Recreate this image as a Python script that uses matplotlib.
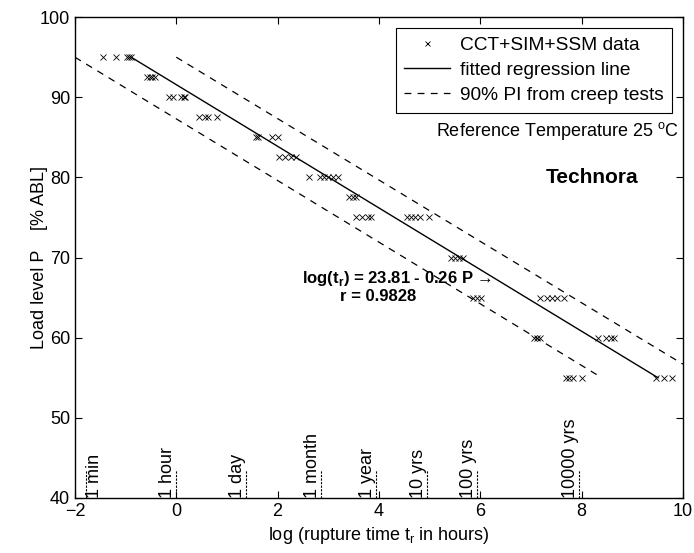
import numpy as np
import matplotlib
matplotlib.use('Agg')
import matplotlib.pyplot as plt

plt.rcParams['font.family'] = ['Liberation Sans', 'DejaVu Sans']
plt.rcParams['mathtext.fontset'] = 'custom'
plt.rcParams['mathtext.rm'] = 'Liberation Sans'
plt.rcParams['mathtext.bf'] = 'Liberation Sans:bold'

# test data: load level (% ABL) and log rupture time (hours)
load_levels = [95, 92.5, 90, 87.5, 85, 82.5, 80, 77.5, 75, 75, 70, 65, 65, 60, 60, 55, 55]
log_times = [
    [-1.45, -1.19, -0.98, -0.93, -0.90],
    [-0.58, -0.52, -0.47, -0.42],
    [-0.14, -0.06, 0.10, 0.15, 0.18],
    [0.45, 0.57, 0.62, 0.80],
    [1.57, 1.61, 1.89, 2.01],
    [2.03, 2.14, 2.26, 2.36],
    [2.62, 2.84, 2.91, 2.99, 3.09, 3.19],
    [3.41, 3.49, 3.55],
    [3.55, 3.66, 3.78, 3.84],
    [4.55, 4.63, 4.71, 4.81, 4.99],
    [5.42, 5.50, 5.58, 5.66],
    [5.85, 5.93, 6.01],
    [7.18, 7.32, 7.41, 7.51, 7.65],
    [7.06, 7.12, 7.18],
    [8.32, 8.48, 8.58, 8.64],
    [7.69, 7.75, 7.83, 8.01],
    [9.47, 9.62, 9.78],
]

# regression log(tr) = a - b*P
reg_a = 23.81
reg_b = 0.26
reg_r = 0.9828
reg_P = [55, 95]

# 90% prediction interval bounds (log time, load)
pi_upper_x = [0.0, 10.0]
pi_upper_P = [95, 56.7]
pi_lower_x = [-2.0, 8.4]
pi_lower_P = [95, 55]

# reference durations
time_labels = ['1 min', '1 hour', '1 day', '1 month', '1 year', '10 yrs', '100 yrs', '10000 yrs']
time_hours = [1/60., 1, 24, 720, 8760, 87600, 876000, 87600000]

fig = plt.figure(figsize=(6.94, 5.53), dpi=100)
ax = fig.add_axes([0.108, 0.0995, 0.876, 0.8695])

#scatter the raw points
xs = []
ys = []
for p, row in zip(load_levels, log_times):
    xs += row
    ys += [p] * len(row)
ax.plot(xs, ys, 'x', color='black', ms=4.5, mew=0.6, label='CCT+SIM+SSM data')

#fitted line
P = np.array(reg_P)
ax.plot(reg_a - reg_b * P, P, '-', color='black', lw=1.0, label='fitted regression line')

#prediction interval
ax.plot(pi_upper_x, pi_upper_P, '--', color='black', lw=0.9, dashes=(5.5, 5),
        label='90% PI from creep tests')
ax.plot(pi_lower_x, pi_lower_P, '--', color='black', lw=0.9, dashes=(5.5, 5))

#time markers along the bottom
for lab, h in zip(time_labels, time_hours):
    lx = np.log10(h)
    ax.plot([lx, lx], [40, 43.5], color='black', lw=0.8, dashes=(2, 1.2))
    ha = 'left' if lx < -1.5 else 'right'
    ax.text(lx, 40, lab, rotation=90, ha=ha, va='bottom', fontsize=13)

ax.text(2.48, 67.4, u'log(t$_\\mathbf{r}$) = 23.81 - 0.26 P \u2192', fontsize=12,
        fontweight='bold', va='center', ha='left')
ax.text(3.23, 65.1, 'r = %.4f' % reg_r, fontsize=12, fontweight='bold', va='center', ha='left')
ax.text(9.93, 85.8, r'Reference Temperature 25 $^\mathregular{o}$C', fontsize=13,
        ha='right', va='center')
ax.text(8.21, 80.0, 'Technora', fontsize=15, fontweight='bold', ha='center', va='center')

ax.set_xlim(-2, 10)
ax.set_ylim(40, 100)
ax.set_xticks(range(-2, 11, 2))
ax.set_yticks(range(40, 101, 10))
ax.tick_params(direction='in', length=5, top=True, right=True, labelsize=13, width=0.8)
for s in ax.spines.values():
    s.set_linewidth(1.0)

ax.set_xlabel(r'log (rupture time t$_\mathregular{r}$ in hours)', fontsize=13, labelpad=4)
ax.set_ylabel('Load level P    [% ABL]', fontsize=13, labelpad=-6)

leg = ax.legend(loc='upper right', fontsize=13.8, fancybox=False, framealpha=1,
                edgecolor='black', handlelength=2.4, borderaxespad=0.55,
                borderpad=0.45, labelspacing=0.4, handletextpad=0.5, markerscale=0.8)
leg.get_frame().set_linewidth(0.8)

plt.savefig('out.png', dpi=100)
